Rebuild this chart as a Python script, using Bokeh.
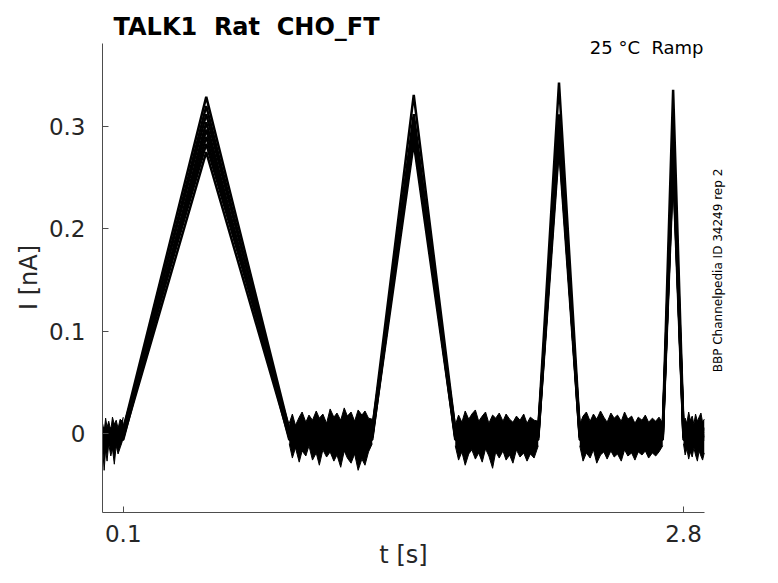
import math
from bokeh.plotting import figure
from bokeh.models import Range1d, FixedTicker, Label
from bokeh.embed import file_html
from bokeh.resources import INLINE

# ---- data ----
# ramp protocol knot times (s)
t_knots = [0.0, 0.1, 0.5, 0.9, 1.3, 1.5, 1.7, 2.1, 2.2, 2.3, 2.7, 2.75, 2.8, 2.9]
# per-sweep baseline offsets (nA)
base = [0.004, -0.003, 0.002, -0.006, 0.0, -0.002, 0.005, -0.004]
# per-sweep peak currents (nA) of the four ramps
peak1 = [0.329, 0.320, 0.312, 0.304, 0.297, 0.290, 0.283, 0.275]
peak2 = [0.331, 0.312, 0.306, 0.301, 0.297, 0.293, 0.289, 0.284]
peak3 = [0.343, 0.312, 0.306, 0.300, 0.296, 0.291, 0.286, 0.281]
peak4 = [0.336, 0.302, 0.292, 0.284, 0.277, 0.271, 0.266, 0.260]

# noise envelopes of the baseline stretches (nA)
tA = [0.0, 0.008, 0.015, 0.022, 0.03, 0.04, 0.048, 0.057, 0.066, 0.075, 0.085, 0.095, 0.1]
hiA = [0.010, 0.002, 0.015, 0.006, 0.012, 0.003, 0.016, 0.009, 0.013, 0.005, 0.014, 0.012, 0.016]
loA = [-0.012, -0.036, -0.016, -0.027, -0.010, -0.022, -0.015, -0.030, -0.012, -0.020, -0.014, -0.008, -0.004]

tB = [0.9, 0.915, 0.93, 0.948, 0.962, 0.98, 0.995, 1.012, 1.03, 1.045, 1.062, 1.08, 1.097,
      1.115, 1.13, 1.148, 1.165, 1.18, 1.198, 1.215, 1.232, 1.25, 1.265, 1.282, 1.3]
hiB = [0.010, 0.019, 0.008, 0.016, 0.021, 0.011, 0.018, 0.013, 0.022, 0.015, 0.019, 0.010, 0.024,
       0.016, 0.020, 0.013, 0.025, 0.017, 0.021, 0.012, 0.023, 0.018, 0.022, 0.015, 0.014]
loB = [-0.010, -0.024, -0.014, -0.028, -0.017, -0.022, -0.012, -0.026, -0.019, -0.031, -0.016, -0.023, -0.018,
       -0.027, -0.021, -0.033, -0.017, -0.024, -0.029, -0.020, -0.036, -0.025, -0.031, -0.018, -0.010]

tC = [1.7, 1.716, 1.732, 1.748, 1.765, 1.78, 1.797, 1.813, 1.83, 1.846, 1.862, 1.88, 1.895,
      1.912, 1.93, 1.945, 1.962, 1.978, 1.995, 2.012, 2.03, 2.046, 2.062, 2.08, 2.1]
hiC = [0.008, 0.018, 0.011, 0.022, 0.014, 0.019, 0.023, 0.012, 0.017, 0.021, 0.010, 0.018, 0.015,
       0.020, 0.012, 0.019, 0.014, 0.011, 0.017, 0.013, 0.019, 0.010, 0.016, 0.013, 0.012]
loC = [-0.012, -0.026, -0.018, -0.031, -0.020, -0.016, -0.025, -0.019, -0.028, -0.015, -0.022, -0.034, -0.018,
       -0.024, -0.017, -0.026, -0.021, -0.029, -0.016, -0.023, -0.019, -0.027, -0.020, -0.024, -0.012]

tD = [2.3, 2.316, 2.332, 2.35, 2.366, 2.382, 2.4, 2.416, 2.432, 2.45, 2.466, 2.482, 2.5,
      2.516, 2.532, 2.55, 2.566, 2.582, 2.6, 2.616, 2.632, 2.65, 2.666, 2.682, 2.7]
hiD = [0.009, 0.017, 0.021, 0.012, 0.019, 0.014, 0.022, 0.016, 0.011, 0.020, 0.015, 0.018, 0.012,
       0.021, 0.014, 0.017, 0.010, 0.016, 0.013, 0.018, 0.011, 0.015, 0.012, 0.016, 0.010]
loD = [-0.012, -0.027, -0.019, -0.024, -0.016, -0.029, -0.021, -0.018, -0.025, -0.017, -0.023, -0.020, -0.027,
       -0.016, -0.022, -0.019, -0.026, -0.018, -0.021, -0.017, -0.024, -0.019, -0.022, -0.018, -0.012]

tE = [2.8, 2.808, 2.816, 2.825, 2.833, 2.842, 2.85, 2.858, 2.867, 2.875, 2.884, 2.892, 2.9]
hiE = [0.008, 0.015, 0.010, 0.021, 0.013, 0.017, 0.009, 0.019, 0.012, 0.016, 0.020, 0.011, 0.014]
loE = [-0.010, -0.021, -0.015, -0.025, -0.018, -0.023, -0.014, -0.021, -0.027, -0.017, -0.022, -0.026, -0.019]

x_ticks = [0.1, 2.8]
x_tick_labels = ["0.1", "2.8"]
y_ticks = [0.0, 0.1, 0.2, 0.3]
y_tick_labels = ["0", "0.1", "0.2", "0.3"]
x_axis_extent = (0.0, 2.9)
y_axis_extent = (-0.077, 0.381)

# double gaps kept visible in SVG with a no-break space
title_text = "TALK1 \u00a0Rat \u00a0CHO_FT"
subtitle_text = "25 °C \u00a0Ramp"
side_text = "BBP Channelpedia ID 34249 rep 2"
x_label = "t [s]"
y_label = "I [nA]"

# ---- layout (pixels) ----
W, H = 762, 567
X0_PX, PX_PER_S = 102.0, 207.5      # canvas x of t=0, pixels per second
Y0_PX, PX_PER_NA = 433.0, 1023.3    # canvas y of I=0, pixels per nA

x_range = Range1d(-X0_PX / PX_PER_S, (W - X0_PX) / PX_PER_S)
y_range = Range1d(-(H - Y0_PX) / PX_PER_NA, Y0_PX / PX_PER_NA)

p = figure(width=W, height=H, output_backend="svg", toolbar_location=None,
           x_range=x_range, y_range=y_range,
           min_border=0, min_border_left=0, min_border_right=0,
           min_border_top=0, min_border_bottom=0)
p.grid.visible = False
p.outline_line_color = None
p.background_fill_color = "white"
p.border_fill_color = "white"

# baseline noise bands
for tt, hi, lo in [(tA, hiA, loA), (tB, hiB, loB), (tC, hiC, loC), (tD, hiD, loD), (tE, hiE, loE)]:
    p.varea(x=tt, y1=lo, y2=hi, fill_color="black")
    p.line(tt, hi, line_color="black", line_width=1)
    p.line(tt, lo, line_color="black", line_width=1)

# sweeps
xs, ys = [], []
for i in range(len(base)):
    b = base[i]
    ys.append([b, b, peak1[i], b, b, peak2[i], b, b, peak3[i], b, b, peak4[i], b, b])
    xs.append(t_knots)
p.multi_line(xs, ys, line_color="black", line_width=2.5)

# axes drawn at fixed locations inside the full-canvas frame
axc = "#262626"
xa, ya = p.xaxis[0], p.yaxis[0]
xa.fixed_location = y_axis_extent[0]
ya.fixed_location = x_axis_extent[0]
xa.bounds = x_axis_extent
ya.bounds = y_axis_extent
for ax in (xa, ya):
    ax.axis_line_color = "#4d4d4d"
    ax.axis_line_width = 1
    ax.major_tick_line_color = "#4d4d4d"
    ax.major_tick_in = 6
    ax.major_tick_out = 0
    ax.minor_tick_line_color = None
    ax.major_label_text_font = "DejaVu Sans"
    ax.major_label_text_font_size = "23px"
    ax.major_label_text_color = axc

xa.ticker = FixedTicker(ticks=x_ticks)
xa.major_label_overrides = {v: s for v, s in zip(x_ticks, x_tick_labels)}
xa.major_label_standoff = 13
ya.ticker = FixedTicker(ticks=y_ticks)
ya.major_label_overrides = {v: s for v, s in zip(y_ticks, y_tick_labels)}
ya.major_label_standoff = 17


def lab(cx, cy, text, size, **kw):
    # cx, cy: canvas pixel position (from top-left)
    p.add_layout(Label(x=cx, y=H - cy, x_units="screen", y_units="screen",
                       text=text, text_font="DejaVu Sans", text_font_size=size, **kw))


lab(113, 26, title_text, "24px", text_font_style="bold", text_color="black",
    text_baseline="alphabetic", text_align="left")
lab(703, 47, subtitle_text, "18px", text_color="black",
    text_baseline="alphabetic", text_align="right")
lab(717, 270, side_text, "12px", text_color="black", angle=math.pi / 2,
    text_baseline="middle", text_align="center")
lab(28, 277, y_label, "24px", text_color=axc, angle=math.pi / 2,
    text_baseline="middle", text_align="center")
lab(403, 554, x_label, "24px", text_color=axc,
    text_baseline="middle", text_align="center")

open("out.html", "w").write(file_html(p, INLINE))
